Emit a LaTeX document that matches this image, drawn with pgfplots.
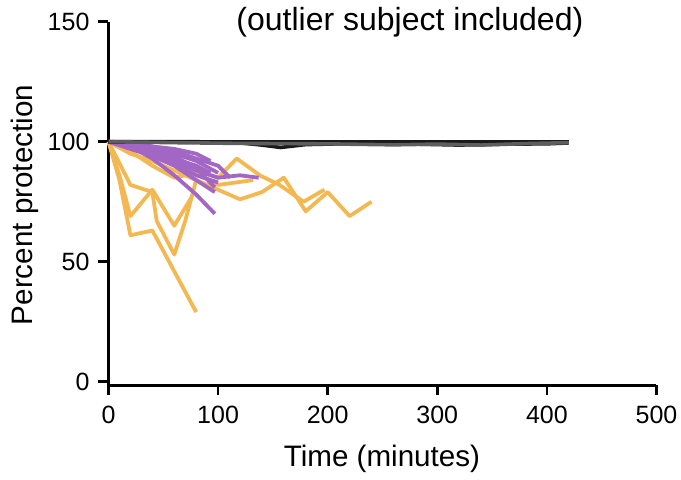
\documentclass[border=0pt]{standalone}
\usepackage{pgfplots}
\pgfplotsset{compat=1.18}
\usepackage{fontspec}
\setmainfont{Liberation Sans}
\definecolor{orng}{RGB}{244,184,82}
\definecolor{purp}{RGB}{162,102,196}
\definecolor{blk}{RGB}{25,25,25}
\begin{document}
\begin{tikzpicture}
\begin{axis}[
  scale only axis,
  width=274pt, height=181.8pt,
  xmin=0, xmax=500, ymin=-1.5, ymax=150,
  axis x line*=bottom, axis y line*=left,
  axis line style={line width=1.5pt, black},
  xtick={0,100,200,300,400,500},
  ytick={0,50,100,150},
  tick align=outside,
  major tick length=5pt,
  every tick/.style={line width=1.3pt, black},
  tick label style={font=\fontsize{12.5}{14}\selectfont},
  /pgf/number format/assume math mode=true,
  xticklabel style={yshift=-2pt},
  yticklabel style={xshift=-1pt},
  xlabel={Time (minutes)},
  ylabel={Percent protection},
  every axis x label/.style={at={(axis description cs:0.499,-0.203)}, anchor=center, font=\fontsize{14.8}{17}\selectfont},
  every axis y label/.style={at={(axis description cs:-0.152,0.496)}, rotate=90, anchor=center, font=\fontsize{14.8}{17}\selectfont},
  clip=false,
  line join=round,
]
% orange series
\addplot[orng, line width=1.9pt] coordinates {(0,100) (10,84) (20,61) (40,63) (80,29)};
\addplot[orng, line width=1.9pt] coordinates {(0,100) (10,86) (20,69) (40,80) (60,65) (76,77)};
\addplot[orng, line width=1.9pt] coordinates {(0,100) (20,82) (40,79) (44,67) (60,53) (70,67) (80,84)};
\addplot[orng, line width=1.9pt] coordinates {(0,100) (20,95) (40,92) (60,88) (80,84) (100,80) (120,76) (140,79) (160,85) (180,71) (200,79) (220,69) (240,75)};
\addplot[orng, line width=1.9pt] coordinates {(0,100) (20,97) (40,95) (60,92) (80,88) (100,85) (117,93) (138,86) (156,82) (178,75) (197,80)};
\addplot[orng, line width=1.9pt] coordinates {(0,100) (20,96) (40,90) (60,85) (80,87) (100,82) (132,84)};
% purple series
\addplot[purp, line width=1.9pt] coordinates {(0,100) (20,98) (40,93) (60,86) (80,78) (97,70)};
\addplot[purp, line width=1.9pt] coordinates {(0,100) (20,99) (40,96) (60,92) (80,88) (100,85) (120,86) (137,85)};
\addplot[purp, line width=1.9pt] coordinates {(0,100) (20,99) (40,97) (60,94) (80,89) (97,81)};
\addplot[purp, line width=1.9pt] coordinates {(0,100) (20,100) (40,98) (60,95) (80,92) (100,87)};
\addplot[purp, line width=1.9pt] coordinates {(0,100) (20,99) (40,97) (60,96) (80,93) (100,90) (111,85)};
\addplot[purp, line width=1.9pt] coordinates {(0,100) (20,98) (40,95) (60,91) (80,86) (100,83)};
\addplot[purp, line width=1.9pt] coordinates {(0,100) (20,99) (40,98) (60,97) (80,95) (93,92)};
\addplot[purp, line width=1.9pt] coordinates {(0,100) (20,98) (40,96) (60,93) (80,90) (93,87)};
\addplot[purp, line width=1.9pt] coordinates {(0,100) (20,97) (40,94) (60,90) (80,84) (97,79)};
% black series
\addplot[blk, line width=1.8pt] coordinates {(0,100) (60,100) (120,100) (180,100) (240,100) (300,100) (360,100) (420,100)};
\addplot[blk, line width=1.8pt] coordinates {(0,100) (40,100) (80,100) (120,99.5) (140,98.6) (157,97.6) (180,98.8) (200,99) (240,99.2) (280,99) (320,98.6) (360,99) (400,99.1) (420,99.5)};
\addplot[blk!70, line width=1.8pt] coordinates {(0,100) (60,99.6) (120,99.3) (200,99.1) (260,98.7) (300,99) (340,98.6) (380,99.2) (420,99.6)};
\node[anchor=base, font=\fontsize{16}{19}\selectfont] at (axis cs:275,146.3) {(outlier subject included)};
\end{axis}
\pgfresetboundingbox
\path[use as bounding box] (-54.25pt,-46.85pt) rectangle (286.25pt,192.65pt);
\end{tikzpicture}
\end{document}
